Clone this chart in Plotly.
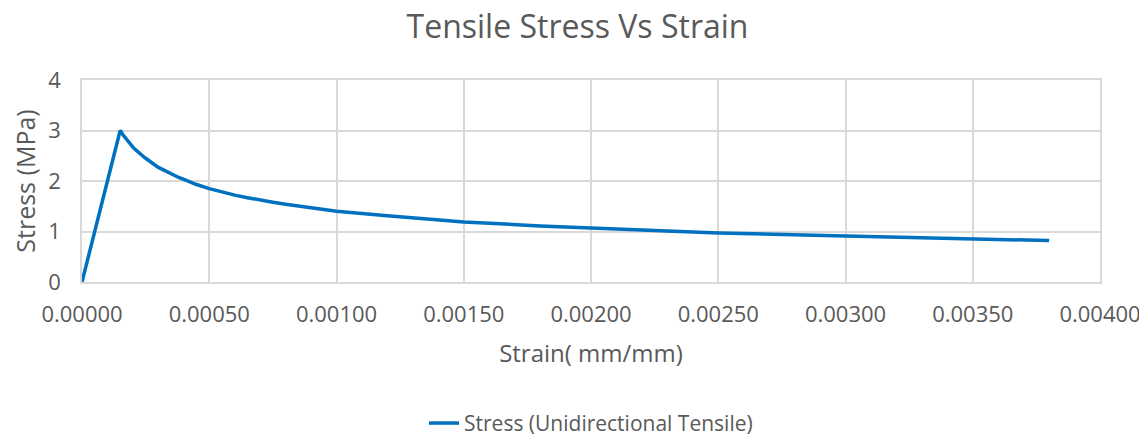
import plotly.graph_objects as go

strain = [0.0, 0.00015, 0.00016, 0.00017, 0.00018, 0.00019, 0.0002, 0.00021, 0.00022,
          0.00023, 0.00024, 0.00025, 0.00026, 0.00027, 0.00028, 0.0003, 0.00032,
          0.00035, 0.00038, 0.0004, 0.00045, 0.0005, 0.00055, 0.0006, 0.00065,
          0.0007, 0.00075, 0.0008, 0.0009, 0.001, 0.0012, 0.0015, 0.0018, 0.002,
          0.0025, 0.003, 0.0035, 0.0038]
stress = [0.0, 3.0, 2.92, 2.85, 2.79, 2.73, 2.67, 2.62, 2.57,
          2.53, 2.49, 2.45, 2.41, 2.37, 2.34, 2.27, 2.22,
          2.14, 2.07, 2.03, 1.93, 1.85, 1.78, 1.72, 1.67,
          1.62, 1.58, 1.54, 1.47, 1.40, 1.31, 1.19, 1.11, 1.07,
          0.97, 0.91, 0.85, 0.82]
x_ticks = [0, 0.0005, 0.001, 0.0015, 0.002, 0.0025, 0.003, 0.0035, 0.004]
x_tick_labels = ["0.00000", "0.00050", "0.00100", "0.00150", "0.00200",
                 "0.00250", "0.00300", "0.00350", "0.00400"]
y_ticks = [0, 1, 2, 3, 4]

FONT = "Open Sans"
GREY = "#595959"
GRID = "#d9d9d9"

fig = go.Figure()
fig.add_trace(go.Scatter(
    x=strain, y=stress, mode="lines",
    name="Stress (Unidirectional Tensile)",
    line=dict(color="#0070c0", width=3.5),
))

# page body has an 8px margin: compensate so the plot area lands at 82..1100 x 80..282
fig.update_layout(
    width=1139, height=428,
    margin=dict(l=74, r=47, t=72, b=154, autoexpand=False),
    paper_bgcolor="white", plot_bgcolor="white",
    font=dict(family=FONT, color=GREY, size=22),
    title=dict(text="Tensile Stress Vs Strain", x=0.5, xanchor="center",
               y=0.955, yanchor="middle",
               font=dict(family=FONT, size=32, color=GREY)),
    showlegend=True,
    legend=dict(orientation="h", x=0.5, xanchor="center", y=-0.70, yanchor="middle",
                font=dict(family=FONT, size=21, color=GREY)),
    xaxis=dict(range=[0, 0.004], tickvals=x_ticks, ticktext=x_tick_labels,
               automargin=False, ticklabeloverflow="allow",
               showgrid=True, gridcolor=GRID, gridwidth=1.5,
               showline=True, linecolor=GRID, linewidth=1.5, mirror=True,
               zeroline=False, ticks="", ticklen=0, ticklabelstandoff=12,
               tickfont=dict(family=FONT, size=22, color=GREY),
               title=dict(text="Strain( mm/mm)", standoff=18,
                          font=dict(family=FONT, size=24, color=GREY))),
    yaxis=dict(range=[0, 4], tickvals=y_ticks, automargin=False,
               showgrid=True, gridcolor=GRID, gridwidth=1.5,
               showline=True, linecolor=GRID, linewidth=1.5, mirror=True,
               zeroline=False, ticks="", ticklabelstandoff=15,
               tickfont=dict(family=FONT, size=22, color=GREY),
               title=dict(text="Stress (MPa)", standoff=13,
                          font=dict(family=FONT, size=25, color=GREY))),
)

fig.write_html("out.html")
